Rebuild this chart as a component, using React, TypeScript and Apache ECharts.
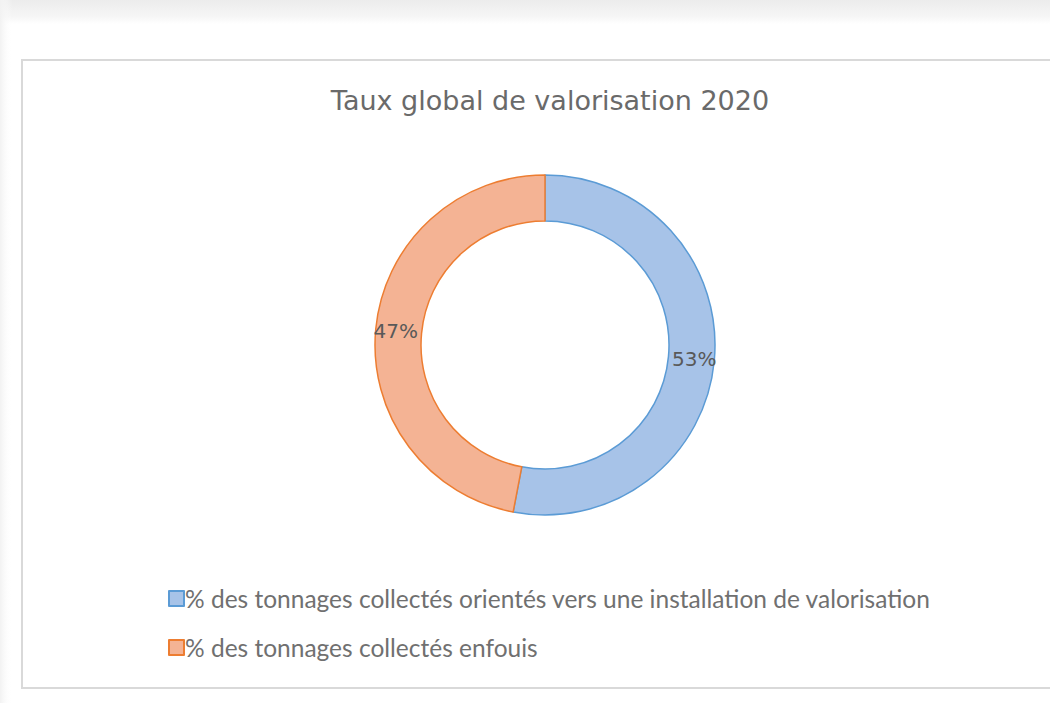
import React, { useEffect, useRef } from "react";
import * as echarts from "echarts";

const titleText = "Taux global de valorisation 2020";
const categories = [
  "% des tonnages collectés orientés vers une installation de valorisation",
  "% des tonnages collectés enfouis",
];
const values = [53, 47];
const fills = ["#a7c3e8", "#f4b394"];
const borders = ["#5b9bd5", "#ed7d31"];

export default function App() {
  const ref = useRef<HTMLDivElement>(null);
  useEffect(() => {
    if (!ref.current) return;
    const chart = echarts.init(ref.current, null, { renderer: "svg" });
    chart.setOption({
      animation: false,
      backgroundColor: "#ffffff",
      graphic: [
        {
          type: "rect",
          shape: { x: 0, y: 0, width: 1050, height: 24 },
          style: {
            fill: new echarts.graphic.LinearGradient(0, 0, 0, 1, [
              { offset: 0, color: "#ececec" },
              { offset: 0.7, color: "#f6f6f6" },
              { offset: 1, color: "#ffffff" },
            ]),
          },
          silent: true,
          z: -10,
        },
        {
          type: "rect",
          shape: { x: 0, y: 0, width: 12, height: 703 },
          style: {
            fill: new echarts.graphic.LinearGradient(0, 0, 1, 0, [
              { offset: 0, color: "#f2f2f2" },
              { offset: 1, color: "rgba(255,255,255,0)" },
            ]),
          },
          silent: true,
          z: -10,
        },
        {
          type: "rect",
          shape: { x: 22, y: 60, width: 1040, height: 628 },
          style: { fill: "#ffffff", stroke: "#d9d9d9", lineWidth: 2 },
          silent: true,
          z: -5,
        },
      ],
      title: {
        text: titleText,
        left: 545,
        top: 82,
        textAlign: "center",
        textStyle: {
          fontFamily: "DejaVu Sans",
          fontSize: 27,
          fontWeight: "normal",
          color: "#6a6a6a",
        },
      },
      legend: {
        orient: "vertical",
        left: 163,
        top: 581,
        itemWidth: 15,
        itemHeight: 15,
        itemGap: 24,
        icon: "rect",
        data: categories,
        textStyle: {
          fontFamily: "Lato",
          fontSize: 24.5,
          color: "#707070",
          padding: [0, 0, 0, -4],
        },
      },
      series: [
        {
          type: "pie",
          center: [545, 345],
          radius: [124, 170],
          startAngle: 90,
          clockwise: true,
          avoidLabelOverlap: false,
          label: {
            show: true,
            position: "inside",
            formatter: "{d}%",
            fontFamily: "DejaVu Sans",
            fontSize: 20,
            color: "#595959",
          },
          labelLine: { show: false },
          data: categories.map((name, i) => ({
            name,
            value: values[i],
            itemStyle: {
              color: fills[i],
              borderColor: borders[i],
              borderWidth: 1.5,
            },
          })),
        },
      ],
    });
    return () => chart.dispose();
  }, []);
  return (
    <div
      ref={ref}
      style={{ position: "fixed", left: 0, top: 0, width: 1050, height: 703 }}
    />
  );
}
